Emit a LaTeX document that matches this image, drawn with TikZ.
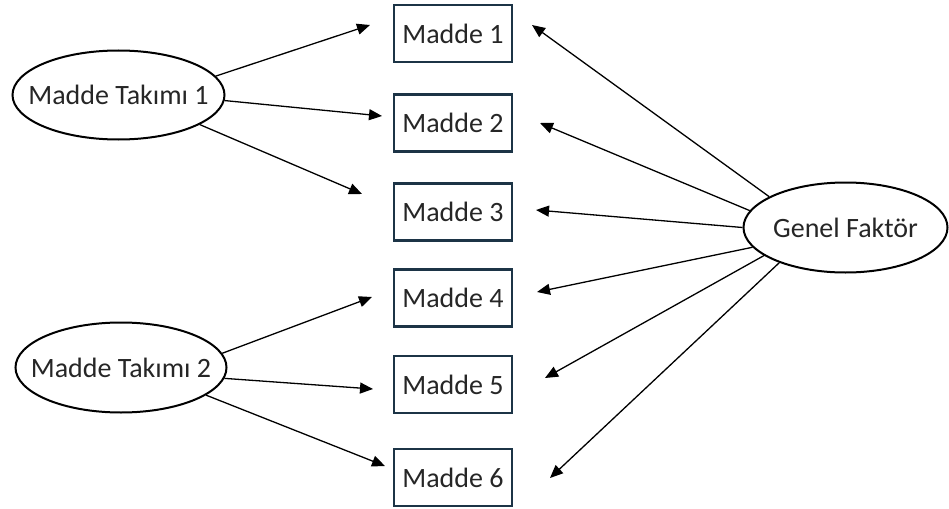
\documentclass[tikz,border=0pt]{standalone}
\usepackage{fontspec}
\setmainfont{Carlito}
\usetikzlibrary{shapes.geometric,arrows.meta}
\definecolor{boxline}{HTML}{1C3446}
\definecolor{txt}{HTML}{262626}
\tikzset{
  item/.style={draw=boxline, line width=2.2pt, minimum width=118pt, minimum height=57pt, inner sep=0pt, text=txt, font=\fontsize{28}{33}\selectfont},
  factor/.style={ellipse, draw=black, line width=2pt, inner xsep=-30pt, inner ysep=0pt, text=txt, font=\fontsize{28}{33}\selectfont},
  arr/.style={line width=1.3pt, -{Triangle[length=13pt,width=11pt]}}
}
\begin{document}
\begin{tikzpicture}[x=1pt,y=-1pt]
\useasboundingbox (0,0) rectangle (949,508);
\node[item] (m1) at (453,33.5) {Madde 1};
\node[item] (m2) at (453,123) {Madde 2};
\node[item] (m3) at (453,212) {Madde 3};
\node[item] (m4) at (453,298) {Madde 4};
\node[item] (m5) at (453,384.5) {Madde 5};
\node[item] (m6) at (453,477.5) {Madde 6};
\node[factor, minimum width=212pt, minimum height=89pt] (t1) at (118.5,95) {Madde Takımı 1};
\node[factor, minimum width=211pt, minimum height=90pt] (t2) at (121,367.5) {Madde Takımı 2};
\node[factor, minimum width=204pt, minimum height=90pt] (g) at (845.5,227.5) {Genel Faktör};
\coordinate (e1a) at (370,25);
\coordinate (e1b) at (382,116);
\coordinate (e1c) at (362,194);
\coordinate (e2a) at (372,297);
\coordinate (e2b) at (373,389);
\coordinate (e2c) at (385,466);
\coordinate (g1) at (532,25);
\coordinate (g2) at (540,123);
\coordinate (g3) at (536,210);
\coordinate (g4) at (537,292);
\coordinate (g5) at (545,378);
\coordinate (g6) at (550,478);
\draw[arr] (t1.11) -- (e1a);
\draw[arr] (t1.-3) -- (e1b);
\draw[arr] (t1.-20) -- (e1c);
\draw[arr] (t2.8) -- (e2a);
\draw[arr] (t2.-6) -- (e2b);
\draw[arr] (t2.-18) -- (e2c);
\draw[arr] (g.158) -- (g1);
\draw[arr] (g.170.6) -- (g2);
\draw[arr] (g.180.5) -- (g3);
\draw[arr] (g.192.4) -- (g4);
\draw[arr] (g.199.6) -- (g5);
\draw[arr] (g.208) -- (g6);
\end{tikzpicture}
\end{document}
